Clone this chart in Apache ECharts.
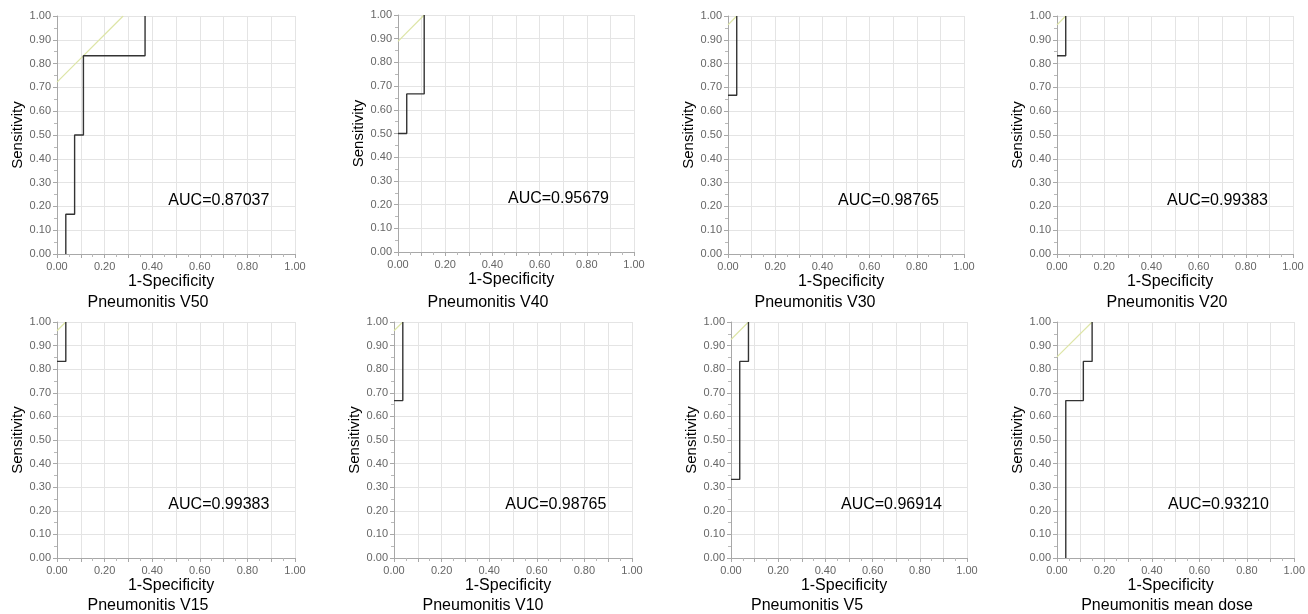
<!DOCTYPE html>
<html>
<head>
<meta charset="utf-8">
<script src="https://cdn.jsdelivr.net/npm/echarts@6/dist/echarts.min.js"></script>
<style>
  html, body { margin: 0; padding: 0; background: #fff; }
  #chart { width: 1308px; height: 614px; }
</style>
</head>
<body>
<div id="chart"></div>
<script>
// panel names and AUC text
var panelTitles = ['Pneumonitis V50', 'Pneumonitis V40', 'Pneumonitis V30', 'Pneumonitis V20',
                   'Pneumonitis V15', 'Pneumonitis V10', 'Pneumonitis V5', 'Pneumonitis mean dose'];
var aucValues = ['0.87037', '0.95679', '0.98765', '0.99383', '0.99383', '0.98765', '0.96914', '0.93210'];

// ROC step curves: 1-specificity (x) and sensitivity (y)
var fprV50 = [0.037, 0.037, 0.074, 0.074, 0.111, 0.111, 0.370, 0.370];
var tprV50 = [0.000, 0.167, 0.167, 0.500, 0.500, 0.833, 0.833, 1.000];
var fprV40 = [0.000, 0.037, 0.037, 0.111, 0.111];
var tprV40 = [0.500, 0.500, 0.667, 0.667, 1.000];
var fprV30 = [0.000, 0.037, 0.037];
var tprV30 = [0.667, 0.667, 1.000];
var fprV20 = [0.000, 0.037, 0.037];
var tprV20 = [0.833, 0.833, 1.000];
var fprV15 = [0.000, 0.037, 0.037];
var tprV15 = [0.833, 0.833, 1.000];
var fprV10 = [0.000, 0.037, 0.037];
var tprV10 = [0.667, 0.667, 1.000];
var fprV5 = [0.000, 0.037, 0.037, 0.074, 0.074];
var tprV5 = [0.333, 0.333, 0.833, 0.833, 1.000];
var fprMean = [0.037, 0.037, 0.111, 0.111, 0.148, 0.148];
var tprMean = [0.000, 0.667, 0.667, 0.833, 0.833, 1.000];

// intercept of the 45-degree cut-off line (sensitivity at 1-specificity = 0)
var cutIntercepts = [0.722, 0.889, 0.963, 0.963, 0.963, 0.963, 0.926, 0.852];

var fprList = [fprV50, fprV40, fprV30, fprV20, fprV15, fprV10, fprV5, fprMean];
var tprList = [tprV50, tprV40, tprV30, tprV20, tprV15, tprV10, tprV5, tprMean];

// plot boxes [left, top, width, height]
var boxes = [
  [57, 16, 238, 238], [398, 15, 236, 237], [728, 16, 236, 238], [1057, 16, 236, 238],
  [57, 322, 238, 236], [394, 322, 238, 236], [731, 322, 236, 236], [1057, 322, 238, 236]
];
var titleX = [143, 483, 810, 1162, 143, 478, 802, 1162];

var font = 'Liberation Sans, Arial, sans-serif';

var grids = [], xAxes = [], yAxes = [], series = [], titles = [];

boxes.forEach(function (b, i) {
  grids.push({ left: b[0], top: b[1], width: b[2], height: b[3] });
  xAxes.push({
    type: 'value', gridIndex: i, min: 0, max: 1, interval: 0.1,
    name: '1-Specificity', nameLocation: 'middle', nameGap: 20,
    nameTextStyle: { color: '#000', fontSize: 16, fontFamily: font, padding: [0, 10, 0, 0] },
    axisLine: { lineStyle: { color: '#a8a8a8' } },
    axisTick: { show: true, length: 4, lineStyle: { color: '#a8a8a8' } },
    minorTick: { show: true, splitNumber: 2, length: 3, lineStyle: { color: '#b8b8b8' } },
    axisLabel: {
      color: '#666', fontSize: 11, fontFamily: font, margin: 7,
      formatter: function (v) { return Math.round(v * 10) % 2 === 0 ? v.toFixed(2) : ''; }
    },
    splitLine: { show: true, lineStyle: { color: '#e4e4e4' } }
  });
  yAxes.push({
    type: 'value', gridIndex: i, min: 0, max: 1, interval: 0.1,
    name: 'Sensitivity', nameLocation: 'middle', nameGap: 32,
    nameTextStyle: { color: '#000', fontSize: 15, fontFamily: font },
    axisLine: { show: true, lineStyle: { color: '#a8a8a8' } },
    axisTick: { show: true, length: 4, lineStyle: { color: '#a8a8a8' } },
    minorTick: { show: true, splitNumber: 2, length: 3, lineStyle: { color: '#b8b8b8' } },
    axisLabel: {
      color: '#666', fontSize: 11, fontFamily: font, margin: 6,
      formatter: function (v) { return v.toFixed(2); }
    },
    splitLine: { show: true, lineStyle: { color: '#e4e4e4' } }
  });

  var c = cutIntercepts[i];
  series.push({
    type: 'line', xAxisIndex: i, yAxisIndex: i, silent: true,
    data: [[0, c], [1 - c, 1]],
    symbol: 'none', lineStyle: { color: '#dde5a6', width: 1.2 }, z: 2
  });
  series.push({
    type: 'line', xAxisIndex: i, yAxisIndex: i, silent: true,
    data: fprList[i].map(function (x, k) { return [x, tprList[i][k]]; }),
    symbol: 'none', lineStyle: { color: '#333', width: 1.4 }, z: 3,
    markPoint: {
      symbol: 'circle', symbolSize: 0, silent: true,
      label: {
        show: true, formatter: 'AUC=' + aucValues[i],
        color: '#000', fontSize: 16, fontFamily: font, align: 'center', verticalAlign: 'middle'
      },
      data: [{ coord: [0.68, 0.225] }]
    }
  });

  titles.push({
    text: panelTitles[i], left: titleX[i], top: i < 4 ? 290 : 593, textAlign: 'center',
    textStyle: { color: '#000', fontSize: 16, fontWeight: 'normal', fontFamily: font }
  });
});

var chart = echarts.init(document.getElementById('chart'));
chart.setOption({
  backgroundColor: '#fff',
  animation: false,
  title: titles,
  grid: grids,
  xAxis: xAxes,
  yAxis: yAxes,
  series: series
});
</script>
</body>
</html>
